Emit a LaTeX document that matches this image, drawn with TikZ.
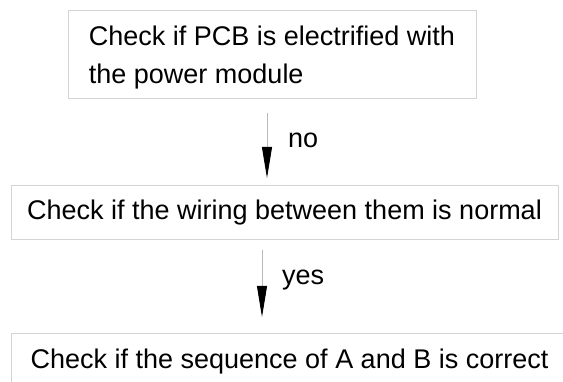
\documentclass[tikz,border=0pt]{standalone}
\usepackage{fontspec}
\setmainfont{Liberation Sans}
\usetikzlibrary{arrows.meta, positioning}
\definecolor{boxgray}{RGB}{212,212,212}
\definecolor{linegray}{RGB}{185,185,185}
\tikzset{
  x=1pt, y=-1pt, % one unit is one pixel of the sketch, y runs down
  every node/.style={font=\fontsize{27}{38}\selectfont}, % big sans text
  flow/.style={draw=linegray, line width=0.8pt,
    -{Triangle[length=31pt, width=10pt, color=black]}}, % thin shaft, black head
}

\begin{document}
\begin{tikzpicture}[box/.style = {draw=boxgray, line width=1pt, rectangle, inner sep=0pt}]

    \clip (0,0) rectangle (563,382);
    \useasboundingbox (0,0) rectangle (563,382);

    \node[box, minimum width=408pt, minimum height=88pt, align=left] (pcb) at (272,54.5)
      {\rule{0pt}{25pt}Check if PCB is electrified with\\the power module};
    \node[box, minimum width=547pt, minimum height=54pt] (wiring) at (284.5,213)
      {Check if the wiring between them is normal};
    \node[box, minimum width=556pt, minimum height=56pt, anchor=north west] (sequence) at (11,333)
      {Check if the sequence of A and B is correct};

    \coordinate (nofrom) at (267,113);
    \coordinate (noto) at (267,178);
    \coordinate (yesfrom) at (262,250);
    \coordinate (yesto) at (262,317);

    \draw[flow] (nofrom) -- (noto);
    \draw[flow] (yesfrom) -- (yesto);

    \node[anchor=base west, inner sep=0pt] (nolabel) at (288,148) {no};
    \node[anchor=base west, inner sep=0pt] (yeslabel) at (282,285) {yes};
  \end{tikzpicture}
\end{document}
